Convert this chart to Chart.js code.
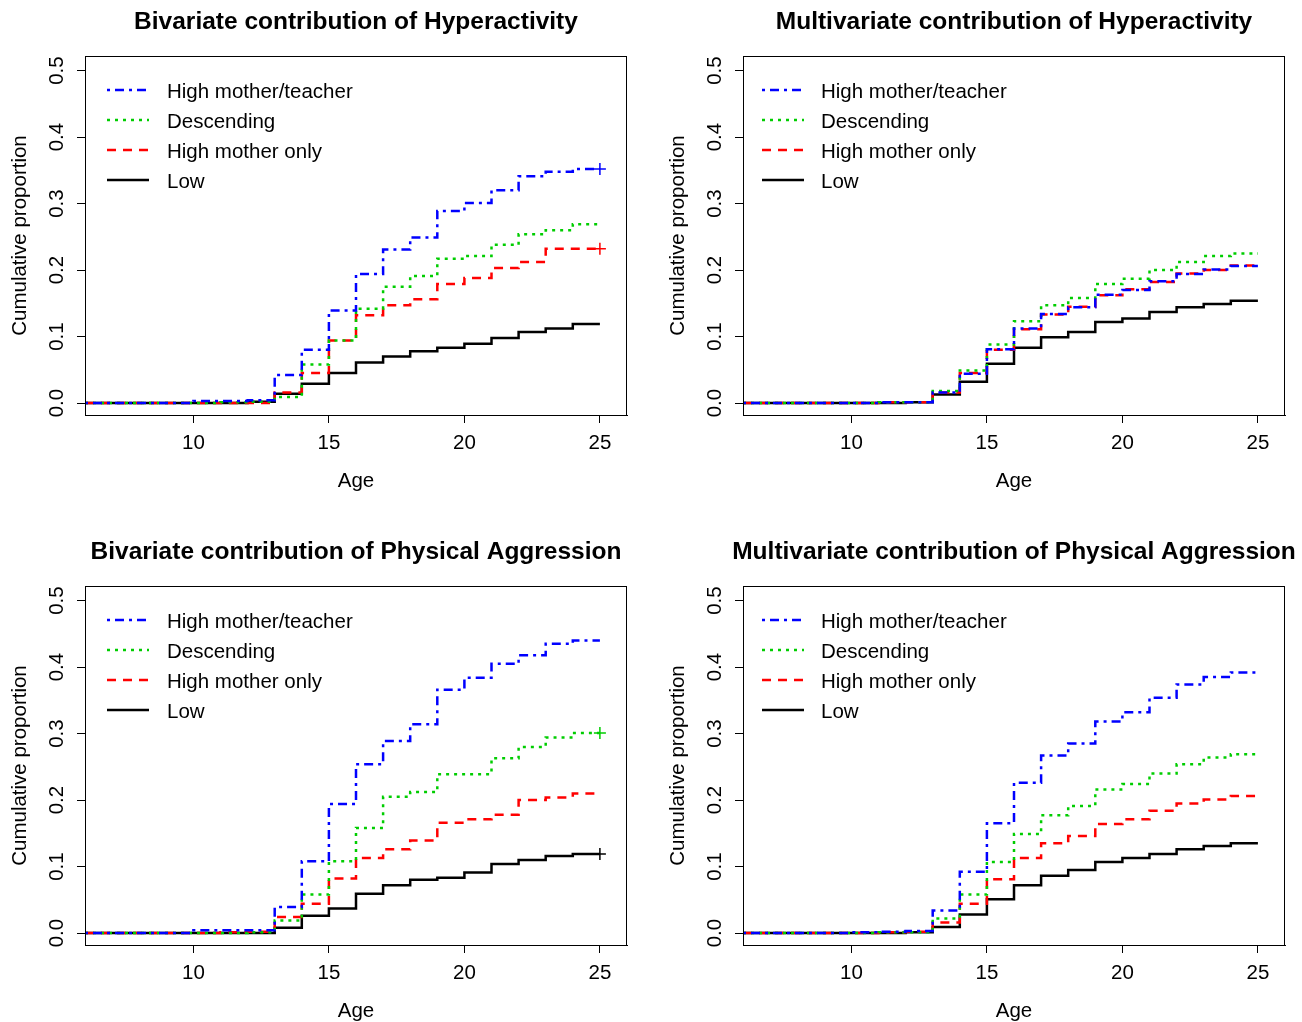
<!DOCTYPE html>
<html>
<head>
<meta charset="utf-8">
<script src="https://cdn.jsdelivr.net/npm/chart.js@4.4.1/dist/chart.umd.min.js"></script>
<style>
  html, body { margin: 0; padding: 0; background: #fff; overflow: hidden; }
  #wrap { position: relative; width: 1302px; height: 1022px; }
  canvas { position: absolute; }
</style>
</head>
<body>
<div id="wrap">
  <canvas id="c1" width="644" height="492" style="left:0;top:0"></canvas>
  <canvas id="c2" width="644" height="492" style="left:658px;top:0"></canvas>
  <canvas id="c3" width="644" height="492" style="left:0;top:530px"></canvas>
  <canvas id="c4" width="644" height="492" style="left:658px;top:530px"></canvas>
</div>
<script>
// ages where the step functions change
const ages = [6, 10, 11, 12, 13, 14, 15, 16, 17, 18, 19, 20, 21, 22, 23, 24, 25];
const groupNames = ["High mother/teacher", "Descending", "High mother only", "Low"];
const xTicks = [10, 15, 20, 25];
const yTicks = [0, 0.1, 0.2, 0.3, 0.4, 0.5];
const panelTitles = [
  "Bivariate contribution of Hyperactivity",
  "Multivariate contribution of Hyperactivity",
  "Bivariate contribution of Physical Aggression",
  "Multivariate contribution of Physical Aggression"
];

// Bivariate, hyperactivity
const hypBiHigh = [0, 0.003, 0.003, 0.004, 0.042, 0.080, 0.139, 0.194, 0.231, 0.249, 0.289, 0.301, 0.320, 0.341, 0.348, 0.352, 0.352];
const hypBiDesc = [0, 0, 0.001, 0.002, 0.009, 0.058, 0.094, 0.142, 0.175, 0.191, 0.217, 0.221, 0.238, 0.254, 0.260, 0.269, 0.269];
const hypBiMother = [0, 0, 0, 0, 0.016, 0.045, 0.094, 0.132, 0.147, 0.156, 0.179, 0.188, 0.203, 0.212, 0.232, 0.232, 0.232];
const hypBiLow = [0, 0, 0, 0.002, 0.014, 0.029, 0.045, 0.061, 0.070, 0.078, 0.083, 0.089, 0.098, 0.107, 0.112, 0.119, 0.119];

// Multivariate, hyperactivity
const hypMultiHigh = [0, 0, 0.001, 0.001, 0.016, 0.044, 0.081, 0.112, 0.134, 0.144, 0.163, 0.170, 0.183, 0.194, 0.201, 0.206, 0.206];
const hypMultiDesc = [0, 0, 0.001, 0.001, 0.018, 0.049, 0.088, 0.123, 0.147, 0.158, 0.179, 0.187, 0.200, 0.212, 0.221, 0.225, 0.225];
const hypMultiMother = [0, 0, 0.001, 0.001, 0.016, 0.045, 0.080, 0.111, 0.133, 0.145, 0.162, 0.171, 0.182, 0.195, 0.200, 0.207, 0.207];
const hypMultiLow = [0, 0, 0, 0.001, 0.013, 0.032, 0.059, 0.083, 0.099, 0.107, 0.122, 0.127, 0.137, 0.144, 0.149, 0.154, 0.154];

// Bivariate, physical aggression
const aggBiHigh = [0, 0.004, 0.004, 0.004, 0.039, 0.108, 0.194, 0.254, 0.289, 0.314, 0.366, 0.384, 0.405, 0.418, 0.435, 0.440, 0.440];
const aggBiDesc = [0, 0, 0, 0.001, 0.019, 0.058, 0.108, 0.158, 0.205, 0.212, 0.239, 0.239, 0.263, 0.280, 0.294, 0.301, 0.301];
const aggBiMother = [0, 0, 0.001, 0.002, 0.024, 0.044, 0.082, 0.113, 0.126, 0.139, 0.166, 0.171, 0.178, 0.200, 0.204, 0.210, 0.210];
const aggBiLow = [0, 0, 0, 0, 0.008, 0.026, 0.037, 0.059, 0.072, 0.080, 0.083, 0.091, 0.104, 0.110, 0.116, 0.119, 0.119];

// Multivariate, physical aggression
const aggMultiHigh = [0, 0.001, 0.002, 0.003, 0.034, 0.092, 0.165, 0.226, 0.267, 0.285, 0.318, 0.332, 0.354, 0.374, 0.385, 0.392, 0.392];
const aggMultiDesc = [0, 0, 0.001, 0.001, 0.022, 0.058, 0.107, 0.149, 0.177, 0.191, 0.216, 0.224, 0.240, 0.254, 0.264, 0.269, 0.269];
const aggMultiMother = [0, 0, 0.001, 0.002, 0.016, 0.044, 0.081, 0.113, 0.135, 0.146, 0.164, 0.171, 0.184, 0.195, 0.201, 0.206, 0.206];
const aggMultiLow = [0, 0, 0, 0.001, 0.009, 0.028, 0.051, 0.072, 0.086, 0.095, 0.107, 0.113, 0.119, 0.126, 0.131, 0.135, 0.135];

// which curves get a "+" at the last age
const censored = [
  [true, false, true, false],
  [false, false, false, false],
  [false, true, false, true],
  [false, false, false, false]
];

const colors = ["#0000ff", "#00cd00", "#ff0000", "#000000"];
const dashes = [[3, 5, 9, 5], [3, 5], [9, 7], []];
const FONT = '"Liberation Sans", Arial, sans-serif';

Chart.defaults.color = "#000";
Chart.defaults.font.family = FONT;

const panelPlugin = {
  id: "panel",
  afterDraw(chart, args, opts) {
    const { ctx, chartArea: a } = chart;
    ctx.save();
    ctx.strokeStyle = "#000";
    ctx.lineWidth = 1;
    ctx.strokeRect(a.left + 0.5, a.top + 0.5, a.right - a.left - 1, a.bottom - a.top);

    ctx.fillStyle = "#000";
    ctx.font = "bold 24.5px " + FONT;
    ctx.textAlign = "center";
    ctx.textBaseline = "alphabetic";
    ctx.fillText(opts.title, (a.left + a.right) / 2, 29);

    // legend, top-left inside the box
    ctx.font = "20.5px " + FONT;
    ctx.textAlign = "left";
    ctx.textBaseline = "middle";
    chart.data.datasets.forEach((ds, i) => {
      const y = a.top + 34 + i * 30;
      ctx.beginPath();
      ctx.setLineDash(ds.borderDash);
      ctx.strokeStyle = ds.borderColor;
      ctx.lineWidth = ds.borderWidth;
      ctx.moveTo(a.left + opts.lineX, y);
      ctx.lineTo(a.left + opts.lineX + 42, y);
      ctx.stroke();
      ctx.setLineDash([]);
      ctx.fillText(ds.label, a.left + opts.textX, y + 2);
    });
    ctx.restore();
  }
};

function makePanel(id, idx, series) {
  const datasets = series.map((vals, i) => ({
    label: groupNames[i],
    data: ages.map((x, k) => ({ x: x, y: vals[k] })),
    borderColor: colors[i],
    backgroundColor: colors[i],
    borderWidth: 2.5,
    borderDash: dashes[i],
    borderCapStyle: "butt",
    stepped: "before",
    fill: false,
    pointStyle: "cross",
    pointBorderWidth: 1.5,
    pointRadius: c => (censored[idx][i] && c.dataIndex === ages.length - 1 ? 6 : 0)
  }));

  new Chart(document.getElementById(id), {
    type: "line",
    data: { datasets },
    plugins: [panelPlugin],
    options: {
      responsive: false,
      animation: false,
      events: [],
      layout: { padding: { left: 0, top: 56, right: 17, bottom: 0 } },
      plugins: {
        legend: { display: false },
        tooltip: { enabled: false },
        panel: {
          title: panelTitles[idx],
          lineX: idx % 2 === 0 ? 22 : 19,
          textX: idx % 2 === 0 ? 82 : 78
        }
      },
      scales: {
        x: {
          type: "linear",
          min: 6,
          max: 26,
          afterBuildTicks: s => { s.ticks = xTicks.map(v => ({ value: v })); },
          afterFit: s => { s.height = 77; },
          ticks: { font: { size: 20.5 }, padding: 8, autoSkip: false, maxRotation: 0 },
          grid: { drawOnChartArea: false, drawTicks: true, tickLength: 8, color: "#000" },
          border: { display: true, color: "#000" },
          title: { display: true, text: "Age", font: { size: 20.5, lineHeight: 1 }, padding: { top: 0, bottom: 0 } }
        },
        y: {
          type: "linear",
          min: -0.018,
          max: 0.522,
          afterBuildTicks: s => { s.ticks = yTicks.map(v => ({ value: v })); },
          afterFit: s => { s.width = 85; },
          ticks: {
            font: { size: 20.5 },
            padding: 5,
            autoSkip: false,
            minRotation: 90,
            maxRotation: 90,
            crossAlign: "center",
            callback: v => v.toFixed(1)
          },
          grid: { drawOnChartArea: false, drawTicks: true, tickLength: 8, color: "#000" },
          border: { display: true, color: "#000" },
          title: { display: true, text: "Cumulative proportion", font: { size: 20.5, lineHeight: 1 }, padding: { top: 10, bottom: 0 } }
        }
      }
    }
  });
}

makePanel("c1", 0, [hypBiHigh, hypBiDesc, hypBiMother, hypBiLow]);
makePanel("c2", 1, [hypMultiHigh, hypMultiDesc, hypMultiMother, hypMultiLow]);
makePanel("c3", 2, [aggBiHigh, aggBiDesc, aggBiMother, aggBiLow]);
makePanel("c4", 3, [aggMultiHigh, aggMultiDesc, aggMultiMother, aggMultiLow]);
</script>
</body>
</html>
